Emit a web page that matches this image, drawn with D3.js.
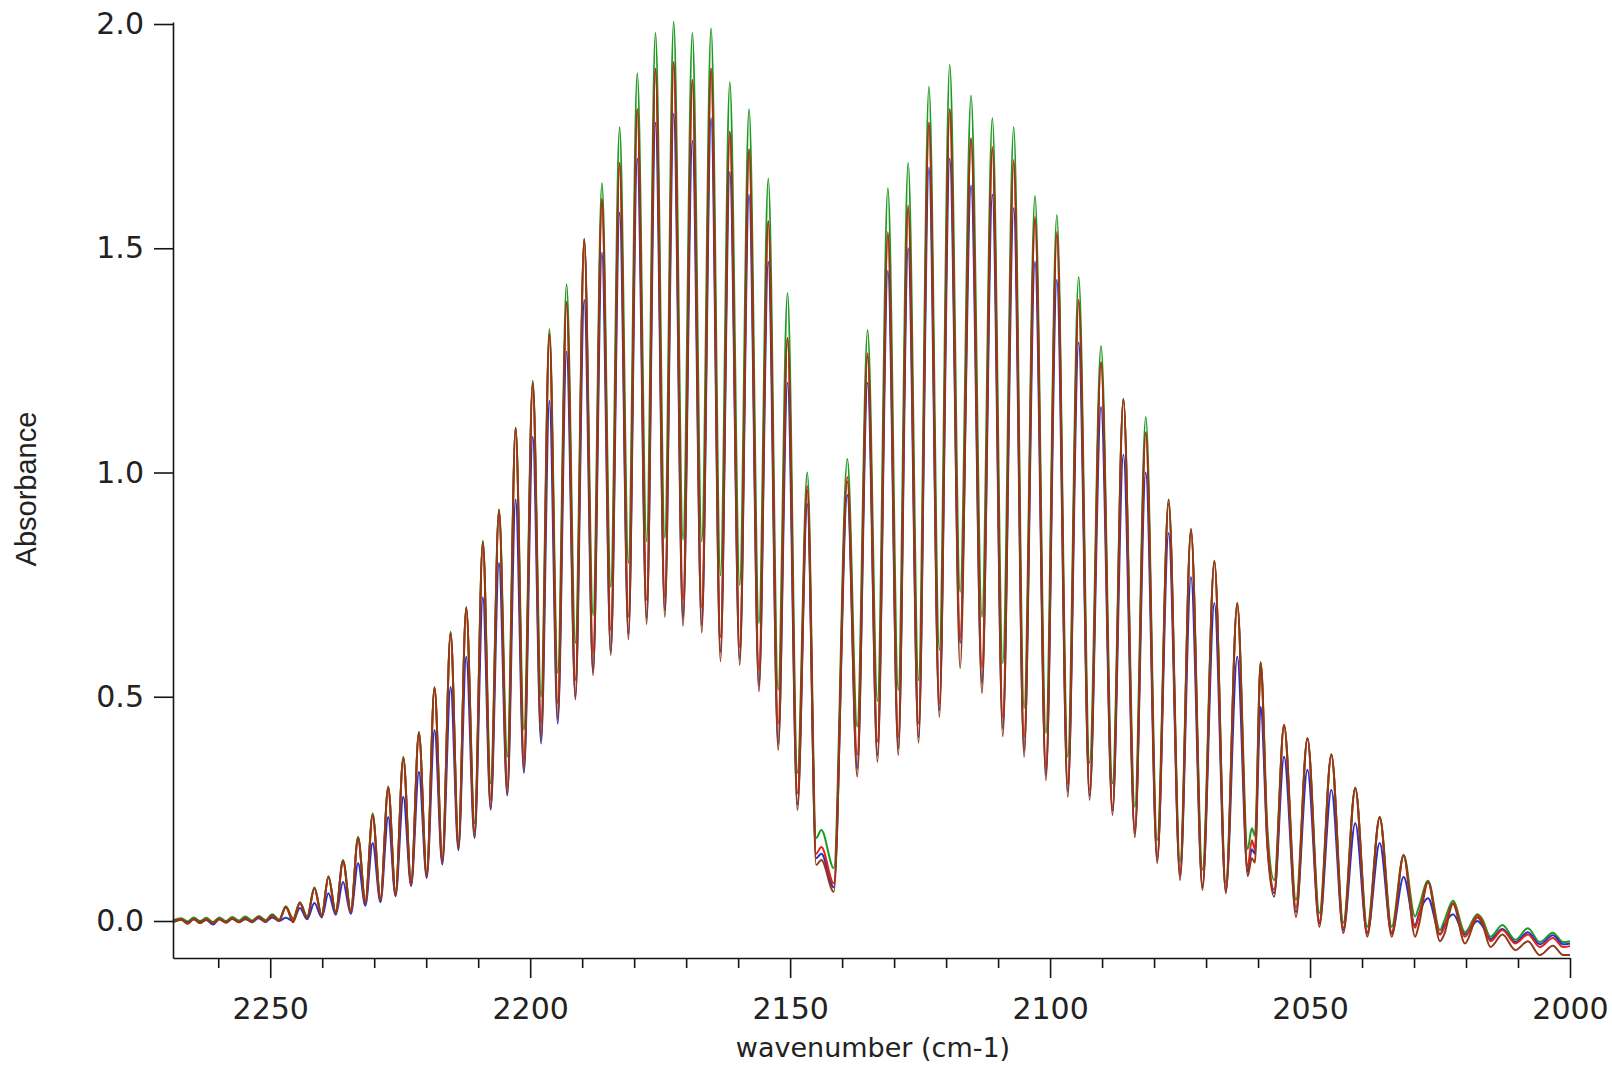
<!DOCTYPE html>
<html>
<head>
<meta charset="utf-8">
<script src="https://cdn.jsdelivr.net/npm/d3@7"></script>
<style>
  body { margin: 0; background: #ffffff; }
  svg { display: block; }
</style>
</head>
<body>
<svg id="chart" width="1612" height="1065"></svg>
<script>
// CO fundamental band, four absorbance spectra.
// Each node is a line peak, a valley between lines, or a small shoulder.
const wavenumber = [
  2268.7, 2267.1, 2265.9, 2264.7, 2263.5, 2262.3, 2261.0, 2259.8, 2258.5, 2257.3,
  2256.0, 2254.8, 2253.5, 2252.2, 2250.9, 2249.6, 2248.3, 2247.0, 2245.6, 2244.3,
  2242.9, 2241.5, 2240.1, 2238.8, 2237.4, 2236.0, 2234.5, 2233.1, 2231.7, 2230.3,
  2228.8, 2227.3, 2225.9, 2224.4, 2222.9, 2221.4, 2219.9, 2218.4, 2216.9, 2215.3,
  2213.8, 2212.3, 2210.7, 2209.1, 2207.6, 2206.0, 2204.4, 2202.8, 2201.2, 2199.5,
  2197.9, 2196.3, 2194.7, 2193.0, 2191.3, 2189.6, 2187.9, 2186.2, 2184.5, 2182.8,
  2181.1, 2179.4, 2177.6, 2175.9, 2174.1, 2172.4, 2170.6, 2168.8, 2167.0, 2165.2,
  2163.4, 2161.6, 2159.7, 2157.9, 2156.0, 2154.2, 2152.3, 2150.5, 2148.6, 2146.7,
  2145.0, 2144.0, 2141.6, 2139.0, 2137.1, 2135.1, 2133.2, 2131.2, 2129.2, 2127.3,
  2125.3, 2123.3, 2121.3, 2119.3, 2117.3, 2115.2, 2113.1, 2111.1, 2109.1, 2107.0,
  2105.0, 2102.9, 2100.8, 2098.7, 2096.6, 2094.5, 2092.4, 2090.2, 2088.0, 2085.9,
  2083.7, 2081.6, 2079.4, 2077.2, 2075.0, 2072.9, 2070.7, 2068.4, 2066.2, 2064.0,
  2062.0, 2061.2, 2060.6, 2059.5, 2058.2, 2056.9, 2055.0, 2052.7, 2050.5, 2048.2,
  2045.9, 2043.6, 2041.3, 2039.0, 2036.6, 2034.3, 2032.0, 2029.8, 2029.1, 2027.3,
  2025.0, 2024.2, 2022.5, 2020.2, 2017.8, 2016.9, 2015.3, 2013.0, 2010.5, 2008.1,
  2005.8, 2003.3, 2001.3, 2000.0
];

const absGreen = [
  0.002, 0.006, -0.001, 0.008, 0.000, 0.007, -0.002, 0.008, 0.000, 0.009,
  0.001, 0.010, 0.001, 0.011, 0.002, 0.015, 0.003, 0.033, 0.006, 0.042,
  0.010, 0.075, 0.014, 0.100, 0.021, 0.136, 0.023, 0.188, 0.043, 0.240,
  0.050, 0.300, 0.062, 0.366, 0.085, 0.422, 0.105, 0.522, 0.138, 0.645,
  0.175, 0.700, 0.218, 0.848, 0.307, 0.918, 0.366, 1.100, 0.426, 1.205,
  0.500, 1.320, 0.553, 1.420, 0.620, 1.520, 0.682, 1.645, 0.745, 1.770,
  0.798, 1.890, 0.846, 1.980, 0.854, 2.005, 0.850, 1.980, 0.846, 1.990,
  0.771, 1.870, 0.749, 1.810, 0.664, 1.655, 0.515, 1.400, 0.330, 1.000,
  0.185, 0.203, 0.118, 1.030, 0.433, 1.318, 0.490, 1.634, 0.515, 1.690,
  0.537, 1.860, 0.604, 1.909, 0.734, 1.840, 0.678, 1.790, 0.575, 1.770,
  0.475, 1.617, 0.419, 1.574, 0.366, 1.436, 0.352, 1.282, 0.307, 1.164,
  0.254, 1.124, 0.180, 0.940, 0.132, 0.874, 0.114, 0.803, 0.085, 0.709,
  0.160, 0.207, 0.190, 0.577, 0.205, 0.091, 0.437, 0.047, 0.408, 0.018,
  0.372, -0.004, 0.297, -0.013, 0.232, -0.013, 0.147, 0.010, 0.030, 0.090,
  -0.020, 0.000, 0.045, -0.025, 0.015, 0.005, -0.035, -0.009, -0.042, -0.016,
  -0.047, -0.026, -0.047, -0.045
];

const absRed = [
  -0.002, 0.004, -0.005, 0.005, -0.004, 0.004, -0.004, 0.005, -0.003, 0.006,
  -0.002, 0.007, -0.002, 0.009, 0.000, 0.013, 0.001, 0.031, 0.002, 0.040,
  0.007, 0.073, 0.011, 0.098, 0.018, 0.134, 0.020, 0.185, 0.040, 0.236,
  0.047, 0.297, 0.060, 0.363, 0.082, 0.419, 0.102, 0.520, 0.134, 0.642,
  0.168, 0.698, 0.200, 0.845, 0.270, 0.916, 0.299, 1.100, 0.359, 1.200,
  0.441, 1.310, 0.486, 1.380, 0.537, 1.520, 0.597, 1.610, 0.649, 1.690,
  0.678, 1.810, 0.716, 1.900, 0.723, 1.915, 0.716, 1.875, 0.700, 1.900,
  0.633, 1.760, 0.611, 1.720, 0.560, 1.560, 0.440, 1.300, 0.285, 0.970,
  0.150, 0.165, 0.084, 0.990, 0.370, 1.266, 0.400, 1.536, 0.410, 1.596,
  0.440, 1.780, 0.486, 1.810, 0.633, 1.745, 0.566, 1.726, 0.455, 1.697,
  0.410, 1.570, 0.343, 1.536, 0.307, 1.385, 0.292, 1.246, 0.254, 1.164,
  0.203, 1.088, 0.143, 0.930, 0.107, 0.870, 0.080, 0.800, 0.070, 0.705,
  0.120, 0.180, 0.160, 0.575, 0.185, 0.070, 0.437, 0.030, 0.405, 0.000,
  0.370, -0.015, 0.295, -0.025, 0.230, -0.025, 0.145, -0.015, 0.010, 0.087,
  -0.030, -0.015, 0.040, -0.035, 0.012, 0.000, -0.045, -0.020, -0.050, -0.030,
  -0.058, -0.038, -0.058, -0.056
];

const absBlue = [
  0.000, 0.003, -0.003, 0.004, -0.002, 0.002, -0.008, 0.004, -0.002, 0.005,
  -0.003, 0.004, -0.001, 0.006, -0.002, 0.008, 0.000, 0.007, 0.000, 0.029,
  0.004, 0.040, 0.008, 0.062, 0.014, 0.087, 0.016, 0.129, 0.034, 0.174,
  0.042, 0.232, 0.055, 0.277, 0.078, 0.332, 0.096, 0.426, 0.126, 0.522,
  0.158, 0.589, 0.185, 0.722, 0.248, 0.798, 0.280, 0.940, 0.330, 1.080,
  0.396, 1.160, 0.440, 1.270, 0.500, 1.385, 0.555, 1.490, 0.600, 1.580,
  0.640, 1.700, 0.675, 1.780, 0.693, 1.800, 0.675, 1.740, 0.660, 1.790,
  0.600, 1.670, 0.585, 1.620, 0.525, 1.470, 0.395, 1.200, 0.260, 0.930,
  0.140, 0.150, 0.075, 0.950, 0.340, 1.200, 0.370, 1.450, 0.385, 1.500,
  0.410, 1.680, 0.470, 1.700, 0.620, 1.640, 0.530, 1.620, 0.430, 1.590,
  0.380, 1.470, 0.325, 1.430, 0.290, 1.290, 0.280, 1.146, 0.245, 1.040,
  0.195, 1.000, 0.135, 0.865, 0.100, 0.767, 0.075, 0.709, 0.066, 0.589,
  0.110, 0.160, 0.150, 0.477, 0.170, 0.062, 0.366, 0.020, 0.337, -0.005,
  0.292, -0.020, 0.218, -0.028, 0.174, -0.028, 0.098, -0.010, 0.015, 0.051,
  -0.030, -0.010, 0.015, -0.030, 0.000, -0.010, -0.040, -0.018, -0.047, -0.025,
  -0.052, -0.032, -0.052, -0.050
];

const absBrown = [
  -0.003, 0.003, -0.006, 0.004, -0.005, 0.003, -0.005, 0.004, -0.004, 0.005,
  -0.003, 0.006, -0.003, 0.009, -0.002, 0.013, 0.000, 0.031, -0.003, 0.040,
  0.007, 0.073, 0.011, 0.098, 0.018, 0.134, 0.020, 0.185, 0.040, 0.236,
  0.046, 0.297, 0.058, 0.363, 0.080, 0.419, 0.099, 0.520, 0.130, 0.642,
  0.162, 0.698, 0.188, 0.845, 0.251, 0.916, 0.283, 1.100, 0.335, 1.200,
  0.405, 1.310, 0.450, 1.380, 0.494, 1.520, 0.548, 1.610, 0.593, 1.690,
  0.628, 1.810, 0.662, 1.900, 0.678, 1.915, 0.658, 1.875, 0.643, 1.900,
  0.579, 1.760, 0.571, 1.720, 0.512, 1.560, 0.381, 1.300, 0.247, 0.960,
  0.125, 0.136, 0.065, 0.980, 0.322, 1.260, 0.355, 1.530, 0.370, 1.590,
  0.397, 1.780, 0.455, 1.810, 0.564, 1.745, 0.508, 1.720, 0.412, 1.690,
  0.366, 1.565, 0.314, 1.530, 0.277, 1.380, 0.270, 1.245, 0.236, 1.164,
  0.187, 1.090, 0.129, 0.940, 0.091, 0.874, 0.069, 0.803, 0.062, 0.709,
  0.100, 0.140, 0.130, 0.577, 0.165, 0.054, 0.437, 0.009, 0.408, -0.013,
  0.372, -0.027, 0.297, -0.035, 0.232, -0.035, 0.147, -0.035, -0.010, 0.087,
  -0.045, -0.030, 0.038, -0.050, 0.008, -0.005, -0.058, -0.030, -0.065, -0.045,
  -0.076, -0.055, -0.076, -0.076
];

// Drawn bottom to top
const traces = [
  { name: "green", values: absGreen, color: "#1f9a22" },
  { name: "blue",  values: absBlue,  color: "#2b2fc8" },
  { name: "red",   values: absRed,   color: "#e4221b" },
  { name: "brown", values: absBrown, color: "#8e3b16" }
];

const xMajorTicks = [2250, 2200, 2150, 2100, 2050, 2000];
const xMinorTicks = [2260, 2240, 2230, 2220, 2210, 2190, 2180, 2170, 2160,
                     2140, 2130, 2120, 2110, 2090, 2080, 2070, 2060,
                     2040, 2030, 2020, 2010];
const yTicks = [0.0, 0.5, 1.0, 1.5, 2.0];

const svg = d3.select("#chart");

const x = d3.scaleLinear().domain([2268.7, 2000]).range([173, 1570]);
const y = d3.scaleLinear().domain([-0.0825, 2.0045]).range([958, 22]);

const tickFont = "'DejaVu Sans', Verdana, sans-serif";

// spectra
const line = d3.line()
  .x((d, i) => x(wavenumber[i]))
  .y(d => y(d))
  .curve(d3.curveMonotoneX);

svg.append("g")
  .selectAll("path")
  .data(traces)
  .join("path")
  .attr("fill", "none")
  .attr("stroke", d => d.color)
  .attr("stroke-width", 2)
  .attr("stroke-linejoin", "round")
  .attr("d", d => line(d.values));

// bottom axis
svg.append("g")
  .attr("transform", "translate(0,958)")
  .call(d3.axisBottom(x).tickValues(xMajorTicks).tickSize(20).tickSizeOuter(0)
        .tickPadding(20).tickFormat(d3.format("d")));
svg.append("g")
  .attr("transform", "translate(0,958)")
  .call(d3.axisBottom(x).tickValues(xMinorTicks).tickSize(10).tickSizeOuter(0)
        .tickFormat(""))
  .call(g => g.select(".domain").remove());

// left axis
svg.append("g")
  .attr("transform", "translate(173,0)")
  .call(d3.axisLeft(y).tickValues(yTicks).tickSize(19).tickSizeOuter(0)
        .tickPadding(10).tickFormat(d3.format(".1f")));

svg.selectAll(".domain, .tick line")
  .attr("stroke", "#151515")
  .attr("stroke-width", 1.6);

svg.selectAll(".tick text")
  .attr("fill", "#222")
  .style("font-family", tickFont)
  .style("font-size", "30px");

// axis titles
svg.append("text")
  .attr("x", 873)
  .attr("y", 1057)
  .attr("text-anchor", "middle")
  .attr("fill", "#222")
  .style("font-family", tickFont)
  .style("font-size", "27px")
  .text("wavenumber (cm-1)");

svg.append("text")
  .attr("transform", "translate(36,489) rotate(-90)")
  .attr("text-anchor", "middle")
  .attr("fill", "#222")
  .style("font-family", "'Liberation Sans', Arial, sans-serif")
  .style("font-size", "29px")
  .text("Absorbance");
</script>
</body>
</html>
